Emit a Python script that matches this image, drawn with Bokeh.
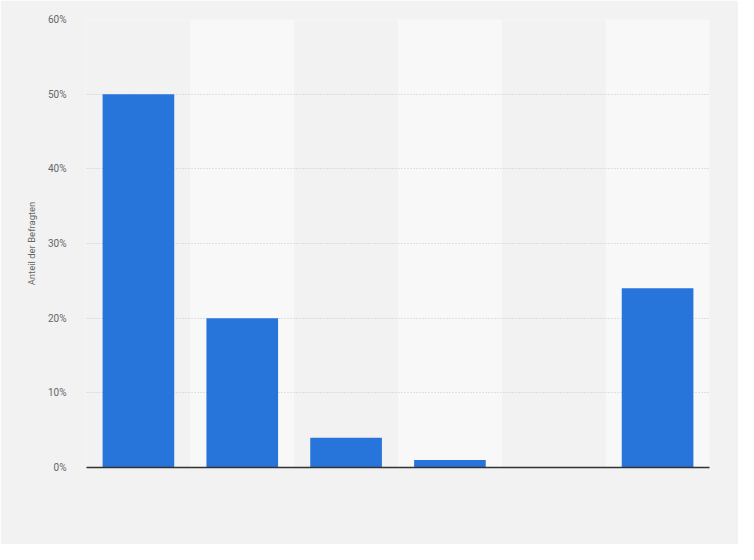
from bokeh.plotting import figure
from bokeh.embed import file_html
from bokeh.resources import INLINE
from bokeh.models import FixedTicker, PrintfTickFormatter, ColumnDataSource

categories = ["A", "B", "C", "D", "E", "F"]
values = [50, 20, 4, 1, 0, 24]
y_ticks = [0, 10, 20, 30, 40, 50, 60]
y_max = 60

p = figure(x_range=categories, y_range=(0, y_max), width=738, height=544,
           output_backend="svg", toolbar_location=None,
           min_border_left=86, min_border_right=29, min_border_top=19, min_border_bottom=77)
p.background_fill_color = "#f2f2f2"
p.border_fill_color = "#f2f2f2"
p.outline_line_color = None

band_src = ColumnDataSource(dict(x=categories[1::2], top=[y_max] * len(categories[1::2])))
p.vbar(x="x", top="top", width=1.0, source=band_src, fill_color="#f8f8f8", line_color=None,
       level="image")

src = ColumnDataSource(dict(x=categories, top=values))
p.vbar(x="x", top="top", width=0.69, source=src, fill_color="#2775db", line_color=None)

p.xgrid.grid_line_color = None
p.ygrid.grid_line_color = "#c8c8c8"
p.ygrid.grid_line_dash = "1 2"
p.ygrid.grid_line_width = 1
p.ygrid.level = "underlay"

p.yaxis.ticker = FixedTicker(ticks=y_ticks)
p.yaxis.formatter = PrintfTickFormatter(format="%d%%")
p.yaxis.axis_line_color = None
p.yaxis.major_tick_line_color = None
p.yaxis.minor_tick_line_color = None
p.yaxis.major_label_text_color = "#666666"
p.yaxis.major_label_text_font = "Roboto"
p.yaxis.major_label_text_font_size = "10px"
p.yaxis.major_label_standoff = 14
p.yaxis.axis_label = "Anteil der Befragten"
p.yaxis.axis_label_text_font = "Roboto"
p.yaxis.axis_label_text_font_size = "9.5px"
p.yaxis.axis_label_text_font_style = "normal"
p.yaxis.axis_label_text_color = "#666666"
p.yaxis.axis_label_standoff = 8

p.xaxis.axis_line_color = "#333333"
p.xaxis.axis_line_width = 1.5
p.xaxis.major_tick_line_color = None
p.xaxis.minor_tick_line_color = None
p.xaxis.major_label_text_alpha = 0
p.xaxis.major_label_text_font_size = "1px"

open("out.html", "w").write(file_html(p, INLINE))
